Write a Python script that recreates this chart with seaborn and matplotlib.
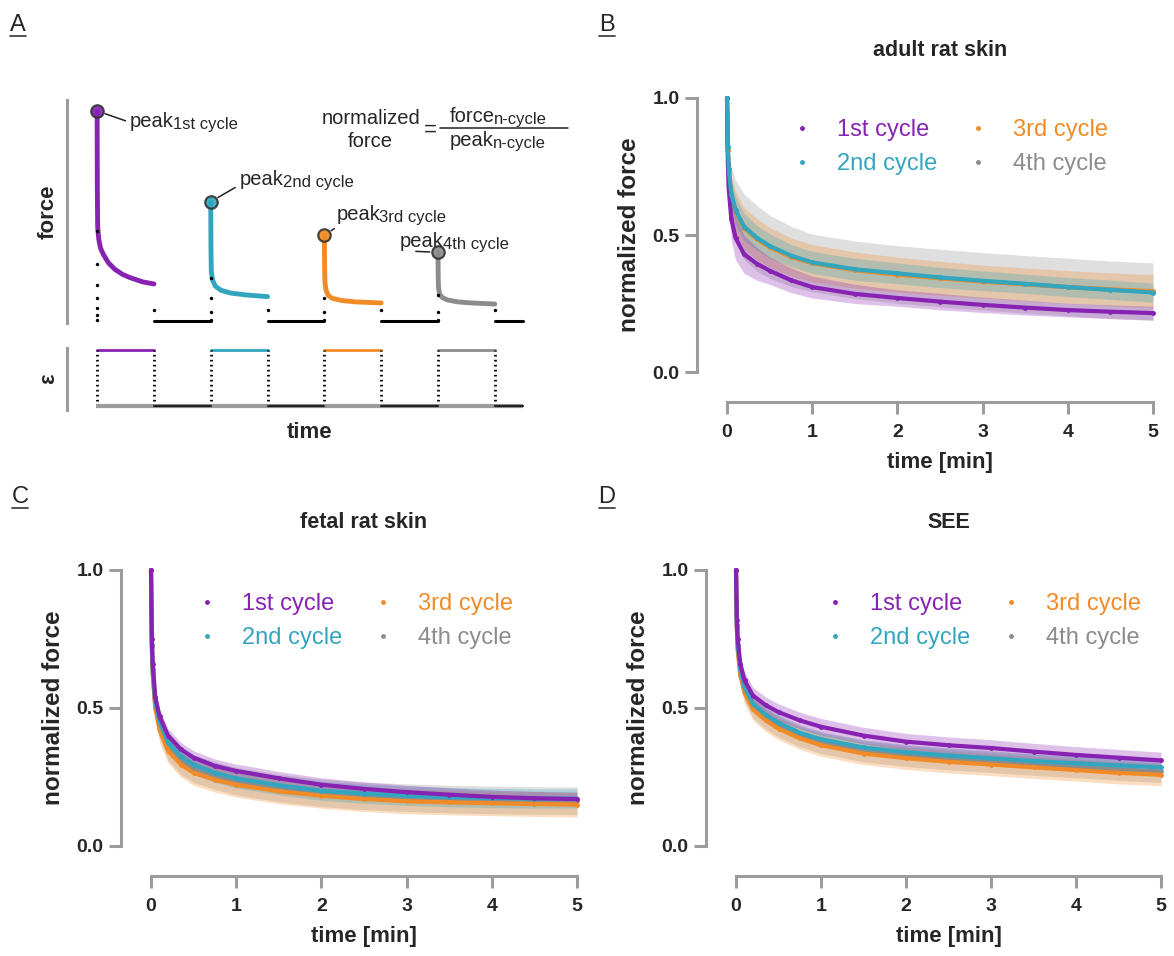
import numpy as np
import pandas as pd
import matplotlib
matplotlib.use("Agg")
import matplotlib.pyplot as plt
from matplotlib.lines import Line2D
from matplotlib.text import Text
from matplotlib.transforms import IdentityTransform
import seaborn as sns

W, H = 1174, 956

CYCLES = ['1st cycle', '2nd cycle', '3rd cycle', '4th cycle']
COLORS = {'1st cycle': '#8722B3', '2nd cycle': '#33A6BF',
          '3rd cycle': '#F18B27', '4th cycle': '#8C8C8C'}
AXIS_GRAY = '#9C9C9C'

# ---- panel A: raw force / strain trace (arbitrary units) ----
A_START = [0, 2, 4, 6]          # start of each hold
A_HOLD = 1.0                    # hold duration
A_REST_END = [2, 4, 6, 7.5]
A_T = [
    [0, 0.004, 0.01, 0.03, 0.06, 0.11, 0.2, 0.31, 0.45, 0.58, 0.8, 1.0],
    [0, 0.004, 0.01, 0.03, 0.08, 0.18, 0.35, 0.62, 1.0],
    [0, 0.004, 0.01, 0.03, 0.07, 0.14, 0.3, 0.55, 1.0],
    [0, 0.004, 0.01, 0.03, 0.08, 0.17, 0.35, 0.6, 1.0],
]
A_F = [
    [1.0, 0.62, 0.45, 0.39, 0.35, 0.32, 0.28, 0.25, 0.225, 0.21, 0.19, 0.18],
    [0.57, 0.35, 0.24, 0.2, 0.17, 0.15, 0.137, 0.128, 0.12],
    [0.41, 0.27, 0.19, 0.15, 0.125, 0.112, 0.102, 0.095, 0.09],
    [0.33, 0.22, 0.16, 0.13, 0.115, 0.104, 0.095, 0.09, 0.085],
]
A_LOAD = [
    [0.43, 0.275, 0.175, 0.114, 0.066, 0.033, 0.01],
    [0.21, 0.114, 0.047, 0.01],
    [0.114, 0.047, 0.01],
    [0.128, 0.047, 0.01],
]
A_UNLOAD = 0.057
A_BASE = 0.003
A_SUBS = ['1st cycle', '2nd cycle', '3rd cycle', '4th cycle']
A_OFFSETS = [(33, -16), (29, 17), (12, 15), (-38, 5)]
A_RELPOS = [(0, 0.45), (0, 0.2), (0.12, 0.05), (0.33, 0.0)]

# ---- panels B-D: normalized force, mean and sd per cycle ----
TIME = [0, 0.01, 0.02, 0.05, 0.1, 0.2, 0.35, 0.5, 0.75, 1, 1.5, 2, 2.5, 3, 3.5, 4, 4.5, 5]

adult_mean = {
    '1st cycle': [1.0, 0.76, 0.67, 0.56, 0.49, 0.43, 0.395, 0.37, 0.335, 0.31, 0.285, 0.27, 0.257, 0.245, 0.235, 0.226, 0.22, 0.215],
    '2nd cycle': [1.0, 0.82, 0.74, 0.65, 0.59, 0.53, 0.49, 0.46, 0.425, 0.40, 0.375, 0.36, 0.345, 0.333, 0.322, 0.31, 0.30, 0.29],
    '3rd cycle': [1.0, 0.81, 0.73, 0.645, 0.585, 0.525, 0.485, 0.455, 0.42, 0.397, 0.372, 0.355, 0.342, 0.33, 0.32, 0.31, 0.302, 0.295],
    '4th cycle': [1.0, 0.82, 0.74, 0.65, 0.59, 0.53, 0.488, 0.457, 0.422, 0.398, 0.373, 0.356, 0.343, 0.331, 0.32, 0.31, 0.30, 0.293],
}
adult_sd = {
    '1st cycle': [0, 0.06, 0.07, 0.08, 0.08, 0.07, 0.06, 0.05, 0.045, 0.04, 0.035, 0.03, 0.03, 0.028, 0.027, 0.025, 0.025, 0.025],
    '2nd cycle': [0, 0.04, 0.045, 0.05, 0.05, 0.05, 0.045, 0.045, 0.04, 0.04, 0.04, 0.038, 0.037, 0.036, 0.035, 0.035, 0.035, 0.035],
    '3rd cycle': [0, 0.05, 0.06, 0.07, 0.075, 0.075, 0.075, 0.072, 0.07, 0.068, 0.066, 0.064, 0.062, 0.06, 0.06, 0.06, 0.06, 0.06],
    '4th cycle': [0, 0.06, 0.08, 0.1, 0.11, 0.12, 0.12, 0.115, 0.11, 0.105, 0.105, 0.105, 0.105, 0.105, 0.105, 0.105, 0.105, 0.105],
}
fetal_mean = {
    '1st cycle': [1.0, 0.75, 0.66, 0.54, 0.47, 0.40, 0.35, 0.32, 0.29, 0.272, 0.245, 0.222, 0.207, 0.195, 0.186, 0.178, 0.173, 0.17],
    '2nd cycle': [1.0, 0.73, 0.64, 0.52, 0.45, 0.375, 0.325, 0.295, 0.265, 0.245, 0.22, 0.2, 0.19, 0.182, 0.177, 0.174, 0.172, 0.172],
    '3rd cycle': [1.0, 0.72, 0.62, 0.5, 0.42, 0.345, 0.295, 0.265, 0.24, 0.222, 0.198, 0.182, 0.17, 0.162, 0.158, 0.155, 0.152, 0.15],
    '4th cycle': [1.0, 0.72, 0.63, 0.51, 0.44, 0.36, 0.31, 0.28, 0.255, 0.235, 0.21, 0.193, 0.182, 0.175, 0.17, 0.167, 0.165, 0.164],
}
fetal_sd = {
    '1st cycle': [0, 0.02, 0.02, 0.025, 0.025, 0.025, 0.025, 0.025, 0.025, 0.025, 0.025, 0.025, 0.025, 0.025, 0.025, 0.025, 0.025, 0.025],
    '2nd cycle': [0, 0.03, 0.03, 0.035, 0.035, 0.035, 0.035, 0.035, 0.035, 0.035, 0.035, 0.035, 0.035, 0.035, 0.035, 0.035, 0.035, 0.035],
    '3rd cycle': [0, 0.03, 0.035, 0.04, 0.045, 0.045, 0.045, 0.045, 0.045, 0.045, 0.045, 0.045, 0.045, 0.045, 0.045, 0.045, 0.045, 0.045],
    '4th cycle': [0, 0.03, 0.035, 0.045, 0.05, 0.05, 0.05, 0.05, 0.05, 0.05, 0.05, 0.05, 0.05, 0.05, 0.05, 0.05, 0.05, 0.05],
}
see_mean = {
    '1st cycle': [1.0, 0.82, 0.75, 0.66, 0.6, 0.545, 0.51, 0.485, 0.455, 0.432, 0.4, 0.378, 0.365, 0.355, 0.342, 0.33, 0.32, 0.31],
    '2nd cycle': [1.0, 0.8, 0.73, 0.64, 0.575, 0.515, 0.475, 0.447, 0.41, 0.387, 0.357, 0.34, 0.328, 0.318, 0.308, 0.3, 0.292, 0.285],
    '3rd cycle': [1.0, 0.79, 0.71, 0.62, 0.555, 0.495, 0.455, 0.425, 0.39, 0.365, 0.335, 0.318, 0.305, 0.295, 0.285, 0.275, 0.265, 0.258],
    '4th cycle': [1.0, 0.79, 0.72, 0.63, 0.565, 0.505, 0.463, 0.435, 0.4, 0.375, 0.345, 0.328, 0.316, 0.306, 0.296, 0.287, 0.278, 0.27],
}
see_sd = {
    '1st cycle': [0, 0.03, 0.03, 0.03, 0.03, 0.03, 0.03, 0.03, 0.03, 0.03, 0.03, 0.03, 0.03, 0.03, 0.03, 0.03, 0.03, 0.03],
    '2nd cycle': [0, 0.025, 0.025, 0.025, 0.025, 0.025, 0.025, 0.025, 0.025, 0.025, 0.025, 0.025, 0.025, 0.025, 0.025, 0.025, 0.025, 0.025],
    '3rd cycle': [0, 0.035, 0.04, 0.04, 0.04, 0.04, 0.04, 0.04, 0.04, 0.04, 0.04, 0.04, 0.04, 0.04, 0.04, 0.04, 0.04, 0.04],
    '4th cycle': [0, 0.035, 0.04, 0.04, 0.04, 0.04, 0.04, 0.04, 0.04, 0.04, 0.04, 0.04, 0.04, 0.04, 0.04, 0.04, 0.04, 0.04],
}

sns.set_theme(style='ticks')
plt.rcParams['font.family'] = ['Liberation Sans', 'DejaVu Sans']

fig = plt.figure(figsize=(W / 100, H / 100), dpi=100)


def px_rect(left, top, right, bottom):
    return [left / W, 1 - bottom / H, (right - left) / W, (bottom - top) / H]


def panel_label(x, y, s):
    fig.text(x / W, 1 - y / H, s, fontsize=17, ha='center', va='center')
    fig.add_artist(Line2D([(x - 8) / W, (x + 8) / W], [1 - (y + 11) / H] * 2,
                          color='#444444', lw=1.3))


def relax_panel(ax, title, means, sds, band_order, line_order, leg_xy):
    rows = []
    for c in CYCLES:
        for t, v in zip(TIME, means[c]):
            rows.append({'time': t, 'force': v, 'cycle': c})
    df = pd.DataFrame(rows)
    for c in band_order:
        m = np.array(means[c])
        s = np.array(sds[c])
        ax.fill_between(TIME, m - s, m + s, color=COLORS[c], alpha=0.28, lw=0)
    sns.lineplot(data=df, x='time', y='force', hue='cycle', hue_order=line_order,
                 palette=COLORS, lw=3, marker='o', markersize=3.5, markeredgewidth=0,
                 estimator=None, sort=False, legend=False, ax=ax)
    for ln in ax.lines:
        ln.set_clip_on(False)
    ax.set_xlim(0, 5)
    ax.set_ylim(0, 1)
    ax.set_xticks(range(6))
    ax.set_yticks([0, 0.5, 1.0])
    sns.despine(ax=ax, offset=21.6, trim=True)
    ax.set_xticks(range(6), labels=[str(i) for i in range(6)], fontsize=14, fontweight='bold')
    ax.set_yticks([0, 0.5, 1.0], labels=['0.0', '0.5', '1.0'], fontsize=14, fontweight='bold')
    ax.tick_params(length=8.6, width=2.2, color=AXIS_GRAY)
    ax.tick_params(axis='x', pad=7)
    ax.tick_params(axis='y', pad=4)
    for sp in ('left', 'bottom'):
        ax.spines[sp].set_color(AXIS_GRAY)
        ax.spines[sp].set_linewidth(2.2)
    ax.set_xlabel('time [min]', fontsize=16, fontweight='bold', labelpad=8)
    ax.set_ylabel('normalized force', fontsize=17.5, fontweight='bold', labelpad=8)
    ax.set_title(title, fontsize=15.5, fontweight='bold', pad=30)
    handles = [Line2D([], [], ls='', marker='o', ms=2.5, color=COLORS[c]) for c in CYCLES]
    leg = ax.legend(handles, CYCLES, ncol=2, frameon=False, fontsize=17,
                    handlelength=1.0, handletextpad=1.0, columnspacing=1.2,
                    labelspacing=0.5, borderpad=0, borderaxespad=0, loc='upper left',
                    bbox_to_anchor=(leg_xy[0] / W, 1 - leg_xy[1] / H),
                    bbox_transform=fig.transFigure)
    for txt, c in zip(leg.get_texts(), CYCLES):
        txt.set_color(COLORS[c])


# ---------------- panel A ----------------
ax_f = fig.add_axes(px_rect(67, 100, 530, 323))
ax_e = fig.add_axes(px_rect(67, 348, 530, 410))

for k, c in enumerate(CYCLES):
    t0 = A_START[k]
    tt = [t0 + t for t in A_T[k]]
    sns.lineplot(x=tt, y=A_F[k], color=COLORS[c], lw=3.5, estimator=None, sort=False, ax=ax_f)
    ax_f.scatter([t0] * len(A_LOAD[k]), A_LOAD[k], s=6, color='black', zorder=3, lw=0)
    ax_f.scatter([t0 + A_HOLD], [A_UNLOAD], s=6, color='black', zorder=3, lw=0)
    ax_f.plot([t0 + A_HOLD, A_REST_END[k]], [A_BASE, A_BASE], color='black', lw=2.2)
    ax_f.scatter([t0], [A_F[k][0]], s=80, facecolor=COLORS[c], edgecolor='#333333',
                 lw=1.6, zorder=4, alpha=0.9)

    # strain trace
    ax_e.plot([t0, t0 + A_HOLD], [1, 1], color=COLORS[c], lw=2)
    ax_e.plot([t0, t0], [0, 1], color='black', lw=2, ls=(0, (0.6, 1.2)))
    ax_e.plot([t0 + A_HOLD, t0 + A_HOLD], [0, 1], color='black', lw=2, ls=(0, (0.6, 1.2)))

ax_e.plot([-0.02, A_REST_END[-1]], [0, 0], color=AXIS_GRAY, lw=3, solid_capstyle='butt')
for k in range(4):
    ax_e.plot([A_START[k] + A_HOLD, A_REST_END[k]], [0, 0], color='#222222', lw=1.6)

for ax in (ax_f, ax_e):
    ax.set_xlim(-0.53, 7.62)
    ax.set_xticks([])
    ax.set_yticks([])
    for sp in ('top', 'right', 'bottom'):
        ax.spines[sp].set_visible(False)
    ax.spines['left'].set_color(AXIS_GRAY)
    ax.spines['left'].set_linewidth(2.2)
    ax.patch.set_alpha(0)
ax_f.set_ylim(-0.005, 1.052)
ax_e.set_ylim(-0.071, 1.036)
ax_f.set_ylabel('force', fontsize=16, fontweight='bold', labelpad=6)
ax_e.set_ylabel('ε', fontsize=16, fontweight='bold', labelpad=6)
fig.text(310 / W, 1 - 432 / H, 'time', fontsize=16, fontweight='bold', ha='center', va='center')

peak_texts = []
for k in range(4):
    txt = ax_f.annotate('peak', xy=(A_START[k], A_F[k][0]), xytext=A_OFFSETS[k],
                        textcoords='offset pixels', fontsize=14.5, ha='left', va='baseline',
                        arrowprops=dict(arrowstyle='-', lw=1.1, color='#222222',
                                        shrinkA=1, shrinkB=6, relpos=A_RELPOS[k]))
    peak_texts.append(txt)

# formula
fig.text(371 / W, 1 - 124 / H, 'normalized', fontsize=14.5, ha='center', va='baseline')
fig.text(370 / W, 1 - 147 / H, 'force', fontsize=14.5, ha='center', va='baseline')
fig.text(430 / W, 1 - 130 / H, '=', fontsize=16, ha='center', va='center')
fig.add_artist(Line2D([440 / W, 568 / W], [1 - 128 / H] * 2, color='#222222', lw=1.1))
num = fig.text(450 / W, 1 - 122 / H, 'force', fontsize=14.5, ha='left', va='baseline')
den = fig.text(450 / W, 1 - 146 / H, 'peak', fontsize=14.5, ha='left', va='baseline')

# ---------------- panels B, C, D ----------------
ax_b = fig.add_axes(px_rect(727, 98, 1153, 372))
relax_panel(ax_b, 'adult rat skin', adult_mean, adult_sd,
            ['4th cycle', '3rd cycle', '2nd cycle', '1st cycle'],
            ['4th cycle', '3rd cycle', '1st cycle', '2nd cycle'], (790, 119))
ax_c = fig.add_axes(px_rect(151, 570, 577, 846))
relax_panel(ax_c, 'fetal rat skin', fetal_mean, fetal_sd,
            ['4th cycle', '3rd cycle', '2nd cycle', '1st cycle'],
            ['4th cycle', '3rd cycle', '2nd cycle', '1st cycle'], (195, 593))
ax_d = fig.add_axes(px_rect(736, 570, 1161, 846))
relax_panel(ax_d, 'SEE', see_mean, see_sd,
            ['4th cycle', '3rd cycle', '2nd cycle', '1st cycle'],
            ['4th cycle', '3rd cycle', '2nd cycle', '1st cycle'], (823, 593))

panel_label(18, 25, 'A')
panel_label(607, 25, 'B')
panel_label(20, 497, 'C')
panel_label(607, 497, 'D')

# subscripts placed right after their main text (text box only, no leader line)
fig.canvas.draw()
renderer = fig.canvas.get_renderer()


def add_sub(main, s):
    bb = Text.get_window_extent(main, renderer)
    fig.text(bb.x1 - 1, bb.y0 + 2, s, fontsize=12, ha='left', va='baseline',
             transform=IdentityTransform())


for txt, s in zip(peak_texts, A_SUBS):
    add_sub(txt, s)
add_sub(num, 'n-cycle')
add_sub(den, 'n-cycle')

fig.savefig('out.png', dpi=100)
